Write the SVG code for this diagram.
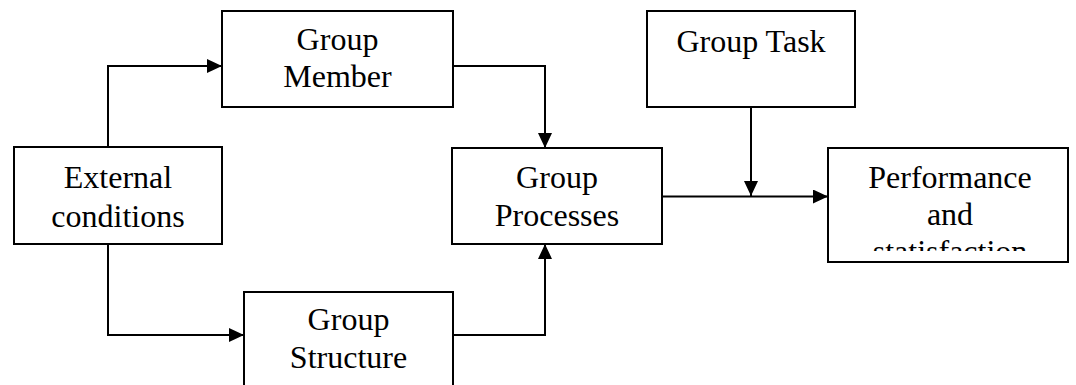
<svg xmlns="http://www.w3.org/2000/svg" width="1076" height="385" viewBox="0 0 1076 385">
<style>
.box{fill:#fff;stroke:#000;stroke-width:2}
.lbl{font-family:"Liberation Serif","Times New Roman",serif;font-size:32px;fill:#000;text-anchor:middle}
.wire{fill:none;stroke:#000;stroke-width:2}
</style>
<defs>
<marker id="ah" markerUnits="userSpaceOnUse" markerWidth="16" markerHeight="14" refX="15" refY="7" orient="auto">
<path d="M0,0 L15,7 L0,14 Z" fill="#000"/>
</marker>
<clipPath id="perfClip"><rect x="828" y="148" width="240" height="103"/></clipPath>
</defs>
<rect width="1076" height="385" fill="#fff"/>
<g id="connectors">
<path class="wire" d="M108,147 V66 H222" marker-end="url(#ah)"/>
<path class="wire" d="M453,66 H545 V148" marker-end="url(#ah)"/>
<path class="wire" d="M751,107 V196" marker-end="url(#ah)"/>
<path class="wire" d="M662,196.5 H828" marker-end="url(#ah)"/>
<path class="wire" d="M108,244 V335 H244" marker-end="url(#ah)"/>
<path class="wire" d="M453,335 H545 V244" marker-end="url(#ah)"/>
</g>
<g id="external">
<rect class="box" x="14" y="147" width="208" height="97"/>
<text class="lbl" x="118" y="188">External</text>
<text class="lbl" x="118" y="227">conditions</text>
</g>
<g id="member">
<rect class="box" x="222" y="11" width="231" height="96"/>
<text class="lbl" x="337.5" y="50">Group</text>
<text class="lbl" x="337.5" y="87">Member</text>
</g>
<g id="task">
<rect class="box" x="647" y="11" width="208" height="96"/>
<text class="lbl" x="751" y="52">Group Task</text>
</g>
<g id="processes">
<rect class="box" x="452" y="148" width="210" height="96"/>
<text class="lbl" x="557" y="188">Group</text>
<text class="lbl" x="557" y="226">Processes</text>
</g>
<g id="performance">
<rect class="box" x="828" y="148" width="240" height="114"/>
<g clip-path="url(#perfClip)">
<text class="lbl" x="950" y="188">Performance</text>
<text class="lbl" x="950" y="225">and</text>
<text class="lbl" x="950" y="262">statisfaction</text>
</g>
</g>
<g id="structure">
<rect class="box" x="244" y="292" width="209" height="120"/>
<text class="lbl" x="348.5" y="330">Group</text>
<text class="lbl" x="348.5" y="368">Structure</text>
</g>
</svg>
